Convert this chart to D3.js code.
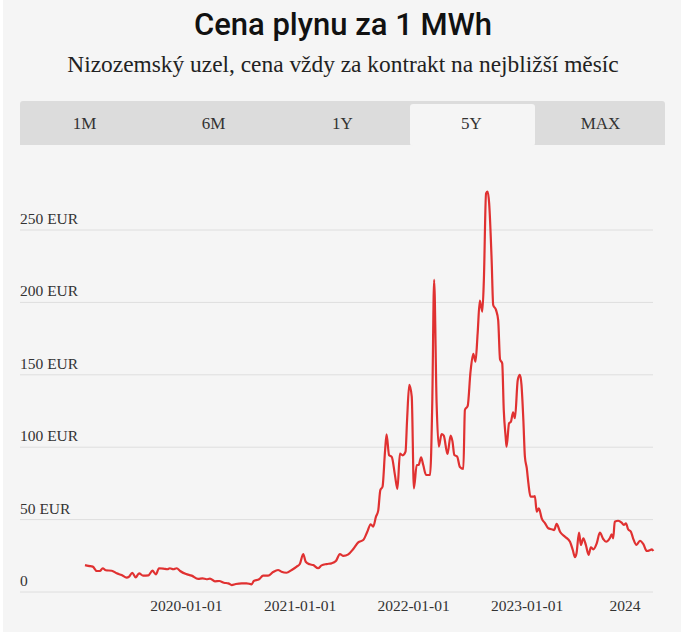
<!DOCTYPE html>
<html lang="cs">
<head>
<meta charset="utf-8">
<script src="https://cdn.jsdelivr.net/npm/d3@7"></script>
<style>
  html, body { margin: 0; padding: 0; background: #fff; }
  #chart { position: absolute; left: 3px; top: 0; width: 678px; height: 632px; background: #f5f5f5; }
  svg { display: block; }
</style>
</head>
<body>
<div id="chart"></div>
<script>
const titleText = 'Cena plynu za 1 MWh'
const subtitleText = 'Nizozemský uzel, cena vždy za kontrakt na nejbližší měsíc'
const tabs = ['1M', '6M', '1Y', '5Y', 'MAX']
const activeTab = '5Y'

const yTicks = [0, 50, 100, 150, 200, 250]
const xTicks = ['2020-01-01', '2021-01-01', '2022-01-01', '2023-01-01', '2024-01-01']

// price of the front-month contract, EUR / MWh
const dates = [
  '2019-02-09','2019-02-20','2019-03-06','2019-03-19','2019-03-29','2019-04-07','2019-04-17','2019-05-06',
  '2019-05-22','2019-06-07','2019-06-23','2019-07-01','2019-07-11','2019-07-22','2019-08-02','2019-08-15',
  '2019-09-01','2019-09-14','2019-09-25','2019-10-05','2019-10-19','2019-11-01','2019-11-09','2019-11-20',
  '2019-12-01','2019-12-12','2019-12-31','2020-01-18','2020-02-08','2020-02-22','2020-03-06','2020-03-17',
  '2020-04-02','2020-04-16','2020-05-01','2020-05-15','2020-05-26','2020-06-08','2020-06-27','2020-07-13',
  '2020-07-29','2020-08-05','2020-08-22','2020-09-04','2020-09-20','2020-10-06','2020-10-22','2020-11-02',
  '2020-11-18','2020-12-05','2020-12-21','2020-12-31','2021-01-11','2021-01-19','2021-02-01','2021-02-12',
  '2021-02-28','2021-03-11','2021-03-27','2021-04-12','2021-04-26','2021-05-09','2021-05-20','2021-06-05',
  '2021-06-21','2021-07-07','2021-07-23','2021-08-05','2021-08-16','2021-08-24','2021-09-02','2021-09-09',
  '2021-09-16','2021-09-23','2021-10-01','2021-10-06','2021-10-14','2021-10-23','2021-11-02','2021-11-10',
  '2021-11-18','2021-11-27','2021-12-06','2021-12-11','2021-12-18','2021-12-26','2022-01-02','2022-01-11',
  '2022-01-17','2022-01-25','2022-02-01','2022-02-10','2022-02-23','2022-03-02','2022-03-08','2022-03-16',
  '2022-03-23','2022-04-01','2022-04-08','2022-04-20','2022-04-30','2022-05-06','2022-05-12','2022-05-21',
  '2022-05-30','2022-06-10','2022-06-15','2022-06-24','2022-07-03','2022-07-12','2022-07-19','2022-07-26',
  '2022-08-02','2022-08-10','2022-08-15','2022-08-22','2022-08-27','2022-09-01','2022-09-09','2022-09-14',
  '2022-09-23','2022-09-30','2022-10-06','2022-10-13','2022-10-18','2022-10-24','2022-10-27','2022-11-04',
  '2022-11-10','2022-11-17','2022-11-23','2022-12-02','2022-12-09','2022-12-14','2022-12-20','2022-12-25',
  '2022-12-31','2023-01-05','2023-01-12','2023-01-21','2023-01-26','2023-02-01','2023-02-08','2023-02-17',
  '2023-02-28','2023-03-10','2023-03-21','2023-03-29','2023-04-06','2023-04-17','2023-05-03','2023-05-19',
  '2023-05-28','2023-06-04','2023-06-09','2023-06-17','2023-06-23','2023-07-01','2023-07-09','2023-07-18',
  '2023-07-25','2023-08-02','2023-08-13','2023-08-23','2023-09-03','2023-09-12','2023-09-24','2023-09-30',
  '2023-10-05','2023-10-10','2023-10-21','2023-11-01','2023-11-08','2023-11-15','2023-11-22','2023-12-01',
  '2023-12-08','2023-12-19','2023-12-30','2024-01-10','2024-01-21','2024-02-01','2024-02-06','2024-02-11'
]
const prices = [
  18.6, 18.0, 17.5, 14.5, 14.5, 16.4, 15.0, 14.7,
  12.9, 11.7, 9.9, 10.6, 13.3, 10.1, 12.9, 11.3,
  11.5, 14.7, 12.2, 16.4, 16.2, 15.7, 16.4, 15.7,
  16.4, 14.5, 12.4, 11.3, 9.0, 9.4, 8.8, 9.2,
  7.4, 7.6, 6.4, 6.0, 4.8, 5.5, 6.0, 6.0,
  5.3, 7.6, 8.8, 11.3, 11.3, 13.8, 15.2, 14.0,
  13.3, 15.2, 17.5, 19.3, 26.2, 20.9, 19.1, 18.6,
  16.4, 18.4, 19.3, 19.8, 21.4, 26.2, 24.9, 26.0,
  29.7, 34.3, 35.9, 41.6, 46.8, 45.1, 52.0, 56.0,
  70.4, 72.7, 96.9, 108.8, 94.6, 93.2, 80.7, 71.2,
  95.5, 94.4, 96.9, 118.8, 143.0, 134.9, 71.6, 87.7,
  87.7, 93.0, 87.7, 80.8, 80.8, 130.3, 215.5, 130.3,
  100.3, 109.1, 108.0, 95.3, 108.0, 104.0, 94.6, 93.6,
  86.3, 85.0, 125.7, 128.5, 152.0, 164.4, 159.0, 178.7,
  201.2, 193.6, 215.5, 275.3, 276.5, 268.4, 229.3, 198.2,
  194.8, 187.8, 160.7, 157.9, 125.7, 107.2, 100.3, 116.5,
  117.6, 124.1, 120.0, 146.4, 149.9, 143.0, 118.8, 93.4,
  85.5, 75.6, 65.8, 65.8, 66.3, 55.5, 57.8, 50.9,
  47.4, 44.0, 43.3, 42.8, 47.0, 41.6, 38.2, 34.7,
  29.0, 24.0, 26.7, 41.0, 32.5, 37.1, 32.5, 25.6,
  30.9, 29.5, 33.6, 41.0, 36.6, 34.7, 37.1, 39.8,
  37.1, 48.5, 49.2, 47.9, 46.3, 47.4, 43.3, 41.6,
  37.1, 32.5, 35.4, 33.1, 28.3, 29.0, 29.5, 28.3
]

document.addEventListener('DOMContentLoaded', () => {
  const width = 678, height = 632
  const parse = d3.timeParse('%Y-%m-%d')
  const data = dates.map((d, i) => ({date: parse(d), value: prices[i]}))

  const svg = d3.select('#chart')
    .append('svg')
    .attr('width', width)
    .attr('height', height)

  const serif = "'Liberation Serif', 'DejaVu Serif', serif"

  svg.append('text')
    .attr('x', 340).attr('y', 35)
    .attr('text-anchor', 'middle')
    .style('font-family', 'Roboto, sans-serif')
    .style('font-weight', 500)
    .style('font-size', '31px')
    .style('fill', '#111')
    .text(titleText)

  svg.append('text')
    .attr('x', 340).attr('y', 72)
    .attr('text-anchor', 'middle')
    .style('font-family', serif)
    .style('font-size', '23.4px')
    .style('fill', '#222')
    .text(subtitleText)

  // tab bar
  const tabX = d3.scaleBand().domain(tabs).range([17, 662])
  const tabG = svg.append('g')
  tabG.append('path')
    .attr('d', `M17,145 V104 Q17,101 20,101 H659 Q662,101 662,104 V145 Z`)
    .style('fill', '#dcdcdc')
  tabG.selectAll('rect.active')
    .data(tabs.filter(t => t === activeTab))
    .join('rect')
    .attr('class', 'active')
    .attr('x', d => tabX(d) + 3)
    .attr('y', 104)
    .attr('width', tabX.bandwidth() - 4)
    .attr('height', 42)
    .attr('rx', 3)
    .style('fill', '#f5f5f5')
  tabG.selectAll('text')
    .data(tabs)
    .join('text')
    .attr('x', d => tabX(d) + tabX.bandwidth() / 2)
    .attr('y', 129)
    .attr('text-anchor', 'middle')
    .style('font-family', serif)
    .style('font-size', '17px')
    .style('fill', '#333')
    .text(d => d)

  // scales
  const x = d3.scaleTime()
    .domain([parse('2018-07-15'), parse('2024-02-10')])
    .range([17, 650])
  const y = d3.scaleLinear()
    .domain([0, 250])
    .range([592, 230])

  const grid = svg.append('g')
  grid.selectAll('line')
    .data(yTicks)
    .join('line')
    .attr('x1', 17).attr('x2', 650)
    .attr('y1', d => y(d)).attr('y2', d => y(d))
    .style('stroke', '#dedede')
    .style('stroke-width', 1)
  grid.selectAll('text')
    .data(yTicks)
    .join('text')
    .attr('x', 17)
    .attr('y', d => y(d) - 6)
    .style('font-family', serif)
    .style('font-size', '15.5px')
    .style('fill', '#333')
    .text(d => d === 0 ? '0' : `${d} EUR`)

  const fmt = d3.timeFormat('%Y-%m-%d')
  svg.append('g')
    .selectAll('text')
    .data(xTicks.map(parse))
    .join('text')
    .attr('x', d => x(d))
    .attr('y', 611)
    .attr('text-anchor', (d, i) => i === xTicks.length - 1 ? 'end' : 'middle')
    .style('font-family', serif)
    .style('font-size', '15.5px')
    .style('fill', '#333')
    .text(d => d.getMonth() === 0 && d.getFullYear() === 2024 ? '2024' : fmt(d))

  const line = d3.line()
    .x(d => x(d.date))
    .y(d => y(d.value))
    .curve(d3.curveMonotoneX)

  svg.append('path')
    .datum(data)
    .attr('d', line)
    .style('fill', 'none')
    .style('stroke', '#e03131')
    .style('stroke-width', 2.2)
    .style('stroke-linejoin', 'round')
})
</script>
</body>
</html>
